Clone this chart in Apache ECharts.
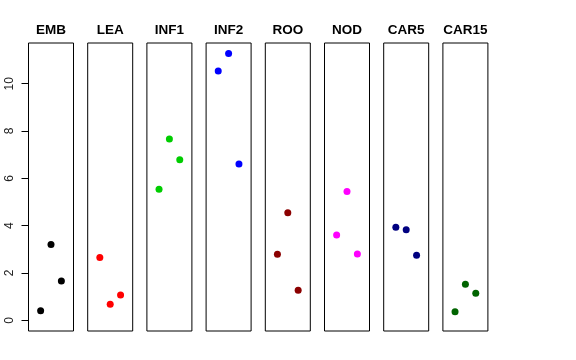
<!DOCTYPE html>
<html>
<head>
<meta charset="utf-8">
<script src="https://cdn.jsdelivr.net/npm/echarts@6/dist/echarts.min.js"></script>
<style>html,body{margin:0;padding:0;background:#fff}#c{width:576px;height:360px}</style>
</head>
<body>
<div id="c"></div>
<script>
const panels = ['EMB','LEA','INF1','INF2','ROO','NOD','CAR5','CAR15'];
const colors = ['#000000','#FF0000','#00CD00','#0000FF','#8B0000','#FF00FF','#000080','#006400'];
const xPos = [1, 2, 3];
const EMB = [0.41, 3.21, 1.66];
const LEA = [2.66, 0.68, 1.07];
const INF1 = [5.54, 7.66, 6.79];
const INF2 = [10.54, 11.28, 6.61];
const ROO = [2.79, 4.55, 1.27];
const NOD = [3.61, 5.45, 2.80];
const CAR5 = [3.93, 3.83, 2.75];
const CAR15 = [0.36, 1.53, 1.14];
const values = [EMB, LEA, INF1, INF2, ROO, NOD, CAR5, CAR15];
const yTicks = [0, 2, 4, 6, 8, 10];

(function () {
const chart = echarts.init(document.getElementById('c'), null, {renderer: 'canvas'});
const grids = [], xAxes = [], yAxes = [], series = [], titles = [];
const left0 = 28.5, step = 59.2, w = 45, gTop = 43, h = 288;
const yMin = -0.45, yMax = 11.72;
panels.forEach((p, i) => {
  const l = left0 + i * step;
  grids.push({left: l, top: gTop, width: w, height: h, show: true, borderColor: '#000', borderWidth: 1, backgroundColor: 'transparent'});
  xAxes.push({type: 'value', gridIndex: i, min: -0.17, max: 4.17, show: false});
  yAxes.push({type: 'value', gridIndex: i, min: yMin, max: yMax, show: false});
  series.push({type: 'scatter', xAxisIndex: i, yAxisIndex: i, symbol: 'circle', symbolSize: 7,
    itemStyle: {color: colors[i], opacity: 1}, silent: true,
    data: xPos.map((x, k) => [x, values[i][k]])});
  titles.push({text: p, left: l + w / 2, top: 23, textAlign: 'center', padding: 0,
    textStyle: {fontFamily: 'Liberation Sans', fontWeight: 'bold', fontSize: 13.5, color: '#000'}});
});
const pxPerUnit = h / (yMax - yMin);
const axTop = gTop + (yMax - yTicks[yTicks.length - 1]) * pxPerUnit;
const axH = (yTicks[yTicks.length - 1] - yTicks[0]) * pxPerUnit;
grids.push({left: left0, top: axTop, width: 1, height: axH, show: false});
xAxes.push({type: 'value', gridIndex: 8, show: false, min: 0, max: 1});
yAxes.push({type: 'value', gridIndex: 8, min: yTicks[0], max: yTicks[yTicks.length - 1], interval: 2, position: 'left',
  axisLine: {show: true, lineStyle: {color: '#000', width: 1}},
  axisTick: {show: true, length: 7, lineStyle: {color: '#000'}},
  splitLine: {show: false},
  axisLabel: {show: true, rotate: 90, margin: 13, fontFamily: 'Liberation Sans', fontSize: 12, color: '#222'}});

chart.setOption({
  animation: false,
  backgroundColor: '#fff',
  title: titles,
  grid: grids,
  xAxis: xAxes,
  yAxis: yAxes,
  series: series
});
})();
</script>
</body>
</html>
